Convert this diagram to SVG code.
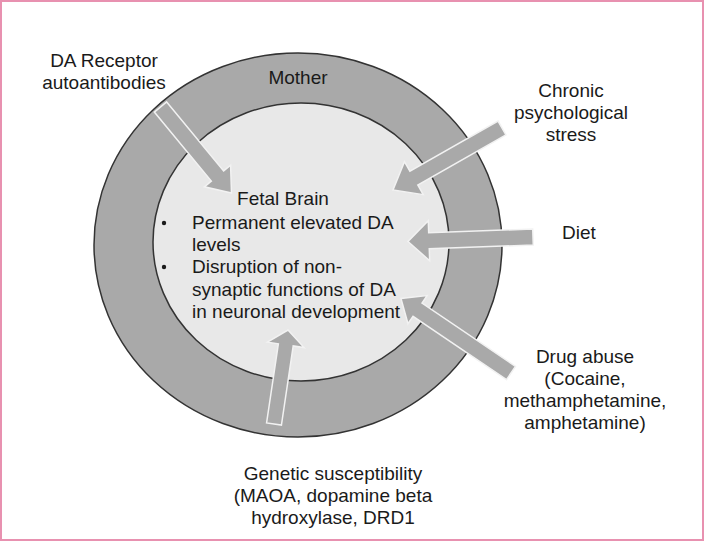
<svg xmlns="http://www.w3.org/2000/svg" width="704" height="542" viewBox="0 0 704 542">
<style>
.t{font-family:"Liberation Sans",Arial,sans-serif;font-size:19px;fill:#1a1a1a;text-anchor:middle}
.l{text-anchor:start}
.arrow{fill:#a9a9a9;stroke:#f2f2f2;stroke-width:1.5;stroke-linejoin:miter}
</style>
<rect x="1" y="1" width="702" height="539" fill="#ffffff" stroke="#e891b0" stroke-width="2"/>
<g id="mother">
<ellipse cx="298" cy="245" rx="204" ry="192" fill="#a9a9a9" stroke="#333333" stroke-width="1.5"/>
<text class="t" x="298" y="84">Mother</text>
</g>
<g id="fetal-brain">
<ellipse cx="301" cy="242" rx="148" ry="139" fill="#e8e8e8" stroke="#333333" stroke-width="1.5"/>
<text class="t" x="283" y="205">Fetal Brain</text>
<circle cx="164" cy="223" r="2.2" fill="#1a1a1a"/>
<circle cx="164" cy="267" r="2.2" fill="#1a1a1a"/>
<text class="t l" x="192" y="229">Permanent elevated DA</text>
<text class="t l" x="192" y="251">levels</text>
<text class="t l" x="192" y="273">Disruption of non-</text>
<text class="t l" x="192" y="296">synaptic functions of DA</text>
<text class="t l" x="192" y="318">in neuronal development</text>
</g>
<g id="connectors">
<path class="arrow" transform="translate(160.5,107) rotate(50.45)" d="M0,-8 H89.5 V-17 L111.5,0 L89.5,17 V8 H0 Z"/>
<path class="arrow" transform="translate(502,128) rotate(150.37)" d="M0,-8 H101.4 V-19 L125.4,0 L101.4,19 V8 H0 Z"/>
<path class="arrow" transform="translate(533,237) rotate(177.94)" d="M0,-8 H104.1 V-20 L125.1,0 L104.1,20 V8 H0 Z"/>
<path class="arrow" transform="translate(511,373) rotate(-145.89)" d="M0,-8 H112.9 V-17 L132.9,0 L112.9,17 V8 H0 Z"/>
<path class="arrow" transform="translate(274,424) rotate(-81.53)" d="M0,-7.5 H80 V-18.5 L95,0 L80,18.5 V7.5 H0 Z"/>
</g>
<g id="da-receptor">
<text class="t" x="104" y="67">DA Receptor</text>
<text class="t" x="104" y="89">autoantibodies</text>
</g>
<g id="chronic-stress">
<text class="t" x="571" y="97">Chronic</text>
<text class="t" x="571" y="119">psychological</text>
<text class="t" x="571" y="141">stress</text>
</g>
<g id="diet">
<text class="t" x="579" y="239">Diet</text>
</g>
<g id="drug-abuse">
<text class="t" x="585" y="363">Drug abuse</text>
<text class="t" x="585" y="385">(Cocaine,</text>
<text class="t" x="585" y="407">methamphetamine,</text>
<text class="t" x="585" y="429">amphetamine)</text>
</g>
<g id="genetic">
<text class="t" x="333" y="480">Genetic susceptibility</text>
<text class="t" x="333" y="502">(MAOA, dopamine beta</text>
<text class="t" x="333" y="524">hydroxylase, DRD1</text>
</g>
</svg>
